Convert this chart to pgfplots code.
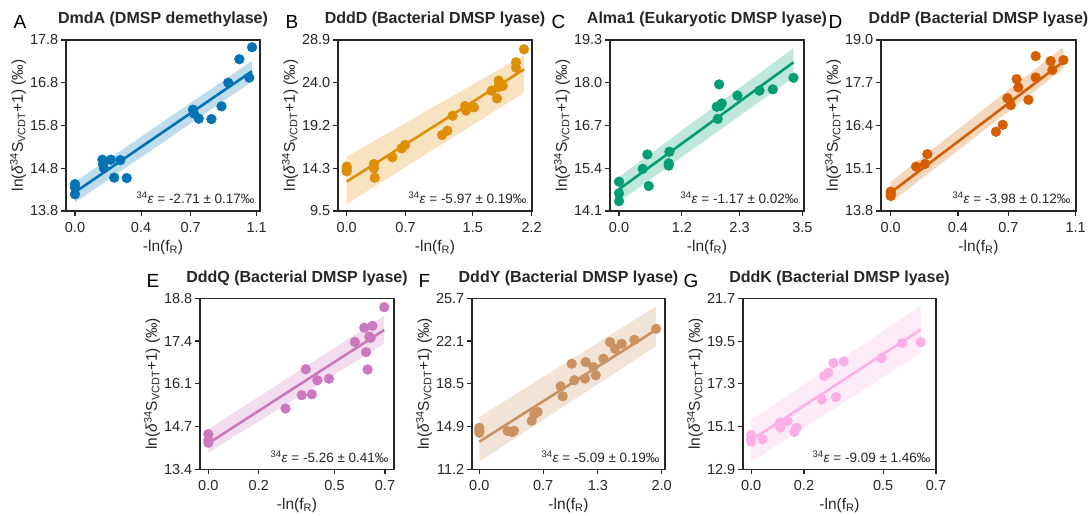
\documentclass[border=0pt]{standalone}
\usepackage{fontspec}
\setmainfont{Liberation Sans}
\usepackage{pgfplots}
\pgfplotsset{compat=1.18}

% seaborn colorblind palette
\definecolor{cA}{HTML}{0173B2}
\definecolor{cB}{HTML}{DE8F05}
\definecolor{cC}{HTML}{029E73}
\definecolor{cD}{HTML}{D55E00}
\definecolor{cE}{HTML}{CC78BC}
\definecolor{cF}{HTML}{CA9161}
\definecolor{cG}{HTML}{FBAFE4}
\definecolor{spine}{HTML}{262626}

\newcommand{\tickfont}{\fontsize{14.5}{17}\selectfont}
\newcommand{\labfont}{\fontsize{15.5}{18}\selectfont}

\pgfplotsset{
  panel/.style={
    scale only axis, width=194pt, height=171pt, anchor=south west,
    clip=false,
    axis line style={line width=1.2pt, color=spine},
    tick align=outside, major tick length=5pt,
    every tick/.style={line width=1.1pt, color=spine},
    xtick pos=left, ytick pos=left,
    tick label style={font=\tickfont, color=spine},
    xticklabel style={anchor=north, inner sep=0pt, yshift=-6pt},
    yticklabel style={anchor=east, inner sep=0pt, xshift=-2.5pt},
    xlabel={-ln(f\textsubscript{R})},
    ylabel={ln(\textit{δ}\textsuperscript{34}S\textsubscript{VCDT}+1) (‰)},
    every axis x label/.style={at={([yshift=-36pt]rel axis cs:0.5,0)}, anchor=center, font=\labfont, color=spine},
    every axis y label/.style={at={([xshift=-48pt]rel axis cs:0,0.5)}, rotate=90, anchor=center, font=\labfont, color=spine},
    title style={at={(rel axis cs:0.5,1)}, anchor=base, yshift=10pt, font=\bfseries\fontsize{16}{19}\selectfont, color=spine},
  },
  band/.style={draw=none, fill=#1, fill opacity=0.25, forget plot},
  fit/.style={#1, line width=2.6pt, no marks},
  pts/.style={only marks, mark=*, mark size=4.9pt, color=#1},
}

\newcommand{\letter}[2]{\node[anchor=base west, font=\fontsize{19}{22}\selectfont] at ([xshift=#1, yshift=11pt]rel axis cs:0,1) {#2};}
\newcommand{\epsnote}[1]{\node[anchor=base east, font=\fontsize{13.5}{15}\selectfont, color=spine] at ([xshift=-2pt, yshift=7pt]rel axis cs:1,0) {\textsuperscript{34}\textit{ε} = #1‰};}

\begin{document}
\begin{tikzpicture}
\useasboundingbox (0,0) rectangle (1091pt,516pt);

% === A ===
\begin{axis}[panel, at={(66pt,305pt)},
  title={DmdA (DMSP demethylase)},
  xmin=-0.0545, xmax=1.12, ymin=13.8, ymax=17.8,
  xtick={0,0.4,0.7,1.1}, xticklabels={0.0,0.4,0.7,1.1},
  ytick={13.8,14.8,15.8,16.8,17.8}, yticklabels={13.8,14.8,15.8,16.8,17.8}]
\addplot[band=cA] coordinates {(0,14.00) (1.072,16.83) (1.072,17.31) (0,14.48)};
\addplot[pts=cA] coordinates {
  (0,14.43) (0,14.35) (0,14.19) (0.166,15.00) (0.170,14.89) (0.175,14.80)
  (0.217,15.00) (0.237,14.58) (0.274,14.99) (0.313,14.57) (0.714,16.17)
  (0.720,16.08) (0.749,15.96) (0.826,15.95) (0.887,16.25) (0.928,16.80)
  (0.995,17.35) (1.055,16.92) (1.072,17.63)};
\addplot[fit=cA] coordinates {(0,14.24) (1.072,17.07)};
\letter{-56pt}{A}
\epsnote{-2.71 ± 0.17}
\end{axis}

% === B ===
\begin{axis}[panel, at={(338pt,305pt)},
  title={DddD (Bacterial DMSP lyase)},
  xmin=-0.103, xmax=2.204, ymin=9.5, ymax=28.9,
  xtick={0,0.7,1.5,2.2}, xticklabels={0.0,0.7,1.5,2.2},
  ytick={9.5,14.35,19.2,24.05,28.9}, yticklabels={9.5,14.3,19.2,24.0,28.9}]
\addplot[band=cB] coordinates {(0,10.29) (2.109,22.92) (2.109,27.2) (0,15.66)};
\addplot[pts=cB] coordinates {
  (0,14.53) (0,14.26) (0,14.0) (0.325,14.83) (0.325,14.34) (0.333,13.28)
  (0.543,15.59) (0.654,16.61) (0.694,16.99) (1.134,18.12) (1.197,18.61)
  (1.26,20.31) (1.407,21.41) (1.419,20.88) (1.514,21.26) (1.724,23.15)
  (1.788,22.28) (1.807,24.29) (1.803,23.53) (1.855,23.68) (2.013,26.37)
  (2.013,25.76) (2.109,27.84)};
\addplot[fit=cB] coordinates {(0,12.83) (2.109,25.57)};
\letter{-56pt}{B}
\epsnote{-5.97 ± 0.19}
\end{axis}

% === C ===
\begin{axis}[panel, at={(610pt,305pt)},
  title={Alma1 (Eukaryotic DMSP lyase)},
  xmin=-0.172, xmax=3.53, ymin=14.1, ymax=19.3,
  xtick={0,1.2,2.3,3.5}, xticklabels={0.0,1.2,2.3,3.5},
  ytick={14.1,15.4,16.7,18.0,19.3}, yticklabels={14.1,15.4,16.7,18.0,19.3}]
\addplot[band=cC] coordinates {(0,14.38) (3.329,18.16) (3.329,19.05) (0,15.14)};
\addplot[pts=cC] coordinates {
  (0,14.99) (0,14.64) (0,14.40) (0.452,15.38) (0.541,15.82) (0.567,14.86)
  (0.961,15.90) (0.948,15.55) (0.948,15.48) (1.865,17.27) (1.884,16.90)
  (1.910,17.95) (1.929,17.29) (1.961,17.37) (2.26,17.61) (2.68,17.76)
  (2.934,17.80) (3.329,18.15)};
\addplot[fit=cC] coordinates {(0,14.76) (3.329,18.62)};
\letter{-62pt}{C}
\epsnote{-1.17 ± 0.02}
\end{axis}

% === D ===
\begin{axis}[panel, at={(881pt,305pt)}, width=195pt,
  title={DddP (Bacterial DMSP lyase)},
  xmin=-0.0577, xmax=1.102, ymin=13.8, ymax=19.0,
  xtick={0,0.4,0.7,1.1}, xticklabels={0.0,0.4,0.7,1.1},
  ytick={13.8,15.1,16.4,17.7,19.0}, yticklabels={13.8,15.1,16.4,17.7,19.0}]
\addplot[band=cD] coordinates {(0,14.06) (1.027,18.12) (1.027,18.78) (0,14.69)};
\addplot[pts=cD] coordinates {
  (0,14.39) (0,14.32) (0,14.26) (0.151,15.15) (0.204,15.23) (0.218,15.53)
  (0.626,16.21) (0.666,16.42) (0.694,17.23) (0.714,17.02) (0.749,17.81)
  (0.759,17.56) (0.819,17.18) (0.862,18.51) (0.862,17.86) (0.951,18.36)
  (0.961,18.09) (1.027,18.39)};
\addplot[fit=cD] coordinates {(0,14.36) (1.027,18.34)};
\letter{-56pt}{D}
\epsnote{-3.98 ± 0.12}
\end{axis}

% === E ===
\begin{axis}[panel, at={(200pt,46.7pt)},
  title={DddQ (Bacterial DMSP lyase)},
  xmin=-0.0329, xmax=0.7357, ymin=13.4, ymax=18.8,
  xtick={0,0.2,0.5,0.7}, xticklabels={0.0,0.2,0.5,0.7},
  ytick={13.4,14.75,16.1,17.45,18.8}, yticklabels={13.4,14.7,16.1,17.4,18.8}]
\addplot[band=cE] coordinates {(0,13.93) (0.697,17.36) (0.697,18.25) (0,14.66)};
\addplot[pts=cE] coordinates {
  (0,14.51) (0,14.32) (0,14.24) (0.306,15.32) (0.37,15.74) (0.386,16.56)
  (0.41,15.77) (0.432,16.21) (0.478,16.26) (0.581,17.42) (0.618,17.87)
  (0.625,17.10) (0.631,16.55) (0.638,17.59) (0.643,17.55) (0.65,17.93)
  (0.697,18.52)};
\addplot[fit=cE] coordinates {(0,14.22) (0.697,17.80)};
\letter{-57pt}{E}
\epsnote{-5.26 ± 0.41}
\end{axis}

% === F ===
\begin{axis}[panel, at={(472pt,46.7pt)}, width=193pt,
  title={DddY (Bacterial DMSP lyase)},
  xmin=-0.080, xmax=2.036, ymin=11.2, ymax=25.7,
  xtick={0,0.7,1.3,2.0}, xticklabels={0.0,0.7,1.3,2.0},
  ytick={11.2,14.825,18.45,22.075,25.7}, yticklabels={11.2,14.9,18.5,22.1,25.7}]
\addplot[band=cF] coordinates {(0,11.85) (1.938,21.65) (1.938,25.02) (0,15.65)};
\addplot[pts=cF] coordinates {
  (0,14.72) (0,14.47) (0,14.30) (0.311,14.44) (0.358,14.35) (0.38,14.47)
  (0.574,15.31) (0.603,15.87) (0.64,16.07) (0.892,18.24) (0.914,17.39)
  (1.013,20.15) (1.042,18.75) (1.159,18.89) (1.166,20.29) (1.25,19.87)
  (1.276,19.17) (1.36,20.58) (1.433,21.98) (1.488,21.42) (1.561,21.84)
  (1.7,22.18) (1.938,23.11)};
\addplot[fit=cF] coordinates {(0,13.54) (1.938,23.03)};
\letter{-57pt}{F}
\epsnote{-5.09 ± 0.19}
\end{axis}

% === G ===
\begin{axis}[panel, at={(743pt,46.7pt)}, width=193pt,
  title={DddK (Bacterial DMSP lyase)},
  xmin=-0.031, xmax=0.7, ymin=12.9, ymax=21.7,
  xtick={0,0.2,0.5,0.7}, xticklabels={0.0,0.2,0.5,0.7},
  ytick={12.9,15.1,17.3,19.5,21.7}, yticklabels={12.9,15.1,17.3,19.5,21.7}]
\addplot[band=cG] coordinates {(0,13.29) (0.642,18.88) (0.642,21.32) (0,15.43)};
\addplot[pts=cG] coordinates {
  (0,14.66) (0,14.45) (0,14.32) (0.043,14.45) (0.109,15.31) (0.111,15.05)
  (0.138,15.39) (0.163,14.83) (0.172,15.04) (0.267,16.49) (0.276,17.70)
  (0.292,17.87) (0.311,18.37) (0.321,16.62) (0.351,18.45) (0.494,18.62)
  (0.572,19.39) (0.642,19.44)};
\addplot[fit=cG] coordinates {(0,14.40) (0.642,20.09)};
\letter{-63pt}{G}
\epsnote{-9.09 ± 1.46}
\end{axis}
\end{tikzpicture}
\end{document}
